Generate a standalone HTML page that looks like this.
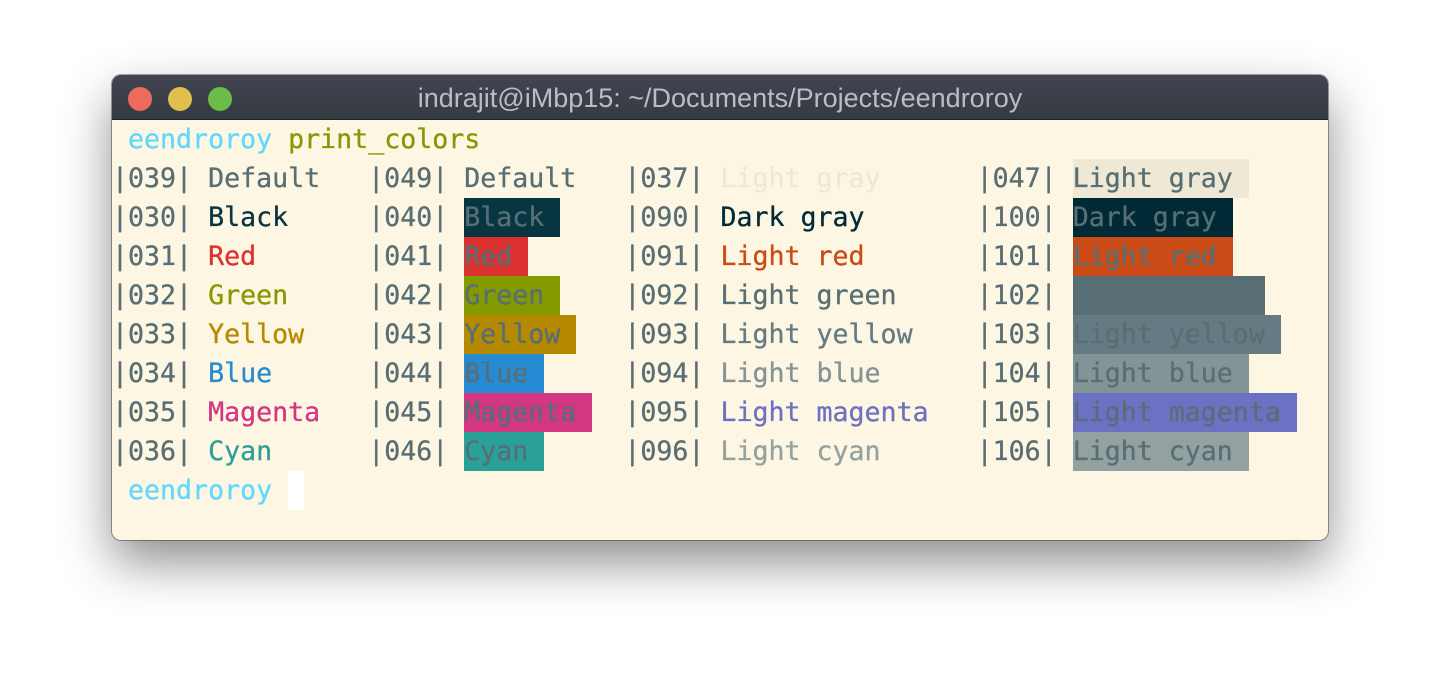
<!DOCTYPE html>
<html><head><meta charset="utf-8"><style>
html,body{margin:0;padding:0;width:1440px;height:688px;background:#fff;overflow:hidden}
.win{position:absolute;left:112px;top:75px;width:1216px;height:465px;border-radius:9px;background:#fdf6e3;box-shadow:0 22px 50px rgba(0,0,0,0.45),0 0 0 1px rgba(0,0,0,0.35);overflow:hidden}
.tb{position:absolute;left:0;top:0;width:100%;height:44px;background:linear-gradient(#40454f,#353a43);border-bottom:1px solid #1d2026}
.tb .t{position:absolute;left:0;right:0;top:8px;line-height:48px;text-align:center;color:#b8bdc6;font:27px "Liberation Sans",sans-serif}
.d{position:absolute;top:12px;width:24px;height:24px;border-radius:50%}
pre{position:absolute;left:0;top:45px;margin:0;font-family:"DejaVu Sans Mono","Liberation Mono",monospace;font-size:26.6px;line-height:39px;color:#586e75;white-space:pre;-webkit-text-stroke:0.3px currentColor}
pre span{display:inline-block;height:39px;vertical-align:top}
</style></head><body>
<div class="win">
<div class="tb"><div class="d" style="left:16px;background:#ed6a5e"></div><div class="d" style="left:56px;background:#e0bf4e"></div><div class="d" style="left:96px;background:#6bbd48"></div><div class="t">indrajit@iMbp15: ~/Documents/Projects/eendroroy</div></div>
<pre> <span style="color:#5fd7ff">eendroroy</span> <span style="color:#859900">print_colors</span>
|039| Default   |049| Default   |037| <span style="color:#eee8d5">Light gray</span>      |047| <span style="background:#eee8d5">Light gray </span>
|030| <span style="color:#073642">Black</span>     |040| <span style="background:#073642">Black </span>    |090| <span style="color:#002b36">Dark gray</span>       |100| <span style="background:#002b36">Dark gray </span>
|031| <span style="color:#dc322f">Red</span>       |041| <span style="background:#dc322f">Red </span>      |091| <span style="color:#cb4b16">Light red</span>       |101| <span style="background:#cb4b16">Light red </span>
|032| <span style="color:#859900">Green</span>     |042| <span style="background:#859900">Green </span>    |092| Light green     |102| <span style="background:#586e75">Light green </span>
|033| <span style="color:#b58900">Yellow</span>    |043| <span style="background:#b58900">Yellow </span>   |093| <span style="color:#657b83">Light yellow</span>    |103| <span style="background:#657b83">Light yellow </span>
|034| <span style="color:#268bd2">Blue</span>      |044| <span style="background:#268bd2">Blue </span>     |094| <span style="color:#839496">Light blue</span>      |104| <span style="background:#839496">Light blue </span>
|035| <span style="color:#d33682">Magenta</span>   |045| <span style="background:#d33682">Magenta </span>  |095| <span style="color:#6c71c4">Light magenta</span>   |105| <span style="background:#6c71c4">Light magenta </span>
|036| <span style="color:#2aa198">Cyan</span>      |046| <span style="background:#2aa198">Cyan </span>     |096| <span style="color:#93a1a1">Light cyan</span>      |106| <span style="background:#93a1a1">Light cyan </span>
 <span style="color:#5fd7ff">eendroroy</span> <span style="background:#ffffff"> </span></pre>
</div>
</body></html>
